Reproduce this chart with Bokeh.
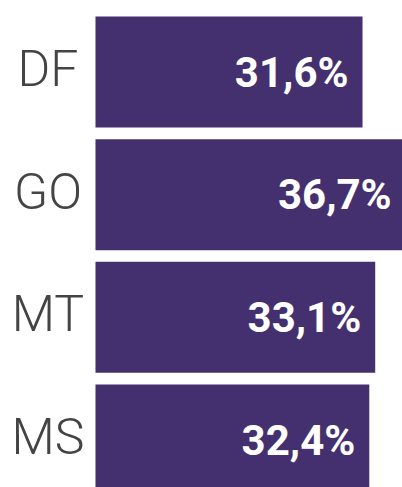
from bokeh.plotting import figure
from bokeh.models import Range1d, ColumnDataSource
from bokeh.core.properties import value
from bokeh.embed import file_html
from bokeh.resources import INLINE

states = ["DF", "GO", "MT", "MS"]
shares = [31.6, 36.7, 33.1, 32.4]
share_labels = ["31,6%", "36,7%", "33,1%", "32,4%"]

ypos = list(range(len(states)))
src = ColumnDataSource(dict(y=ypos, v=shares, lab=share_labels, st=states,
                            lx=[-5.62] * len(states)))

p = figure(width=402, height=487, output_backend="svg", toolbar_location=None,
           x_range=Range1d(-11.24, 36.33), y_range=Range1d(3.387, -0.583),
           min_border=0, outline_line_color=None)
p.axis.visible = False
p.grid.visible = False
p.background_fill_color = "white"
p.border_fill_color = "white"

p.hbar(y="y", left=0, right="v", height=0.905, source=src,
       fill_color="#45306f", line_color=None)

p.text(x="v", y="y", text="lab", source=src, x_offset=-14, y_offset=0,
       text_align="right", text_baseline="middle", text_color="white",
       text_font=value("Roboto"), text_font_style="bold", text_font_size="42px")

p.text(x="lx", y="y", text="st", source=src, y_offset=-3,
       text_align="center", text_baseline="middle", text_color="#444444",
       text_font=value("Roboto Light"), text_font_size="50px")

open("out.html", "w").write(file_html(p, INLINE))
